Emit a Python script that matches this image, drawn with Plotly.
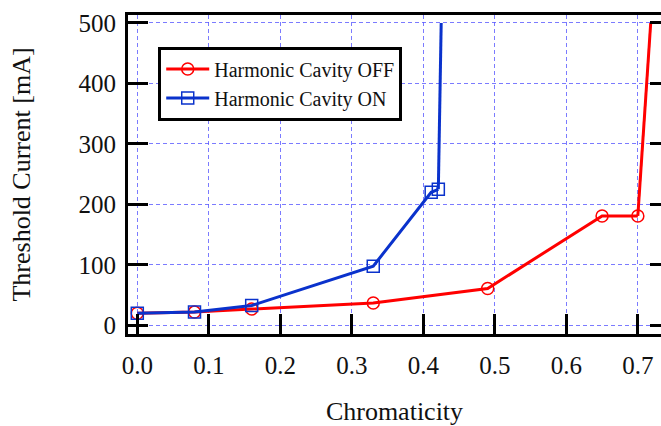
import plotly.graph_objects as go

# Threshold current vs chromaticity, with and without the harmonic cavity.
# The last point of each series marks where the current leaves the 500 mA scale.
chrom_off = [0.0, 0.08, 0.16, 0.33, 0.49, 0.65, 0.70, 0.718]
current_off = [20, 22, 27, 37, 61, 181, 181, 500]

chrom_on = [0.0, 0.08, 0.16, 0.33, 0.411, 0.421, 0.425]
current_on = [20, 22, 33, 98, 220, 225, 500]

x_ticks = [0.0, 0.1, 0.2, 0.3, 0.4, 0.5, 0.6, 0.7]
x_tick_text = ["0.0", "0.1", "0.2", "0.3", "0.4", "0.5", "0.6", "0.7"]
y_ticks = [0, 100, 200, 300, 400, 500]

RED = "#ff0000"
BLUE = "#0a32cc"
GRID = "rgba(90,90,255,0.8)"
FONT = "Liberation Serif"

fig = go.Figure()

series = [
    ("Harmonic Cavity OFF", chrom_off, current_off, RED, "circle-open"),
    ("Harmonic Cavity ON", chrom_on, current_on, BLUE, "square-open"),
]
for name, xs, ys, color, symbol in series:
    fig.add_trace(go.Scatter(
        x=xs[:-1], y=ys[:-1], mode="lines+markers", name=name,
        line=dict(color=color, width=3),
        marker=dict(symbol=symbol, size=12, color=color, line=dict(width=1.5, color=color)),
    ))
    # steep rise beyond the last measured point
    fig.add_trace(go.Scatter(
        x=xs[-2:], y=ys[-2:], mode="lines", showlegend=False, hoverinfo="skip",
        line=dict(color=color, width=3),
    ))

# right-hand mirrored ticks
fig.add_trace(go.Scatter(x=[None], y=[None], yaxis="y2", showlegend=False))

fig.update_layout(
    width=661, height=426,
    margin=dict(l=128, r=0, t=15, b=92),
    paper_bgcolor="white", plot_bgcolor="white",
    font=dict(family=FONT, size=24, color="#111111"),
    xaxis=dict(
        range=[-0.013, 0.7324],
        tickvals=x_ticks, ticktext=x_tick_text,
        ticks="inside", ticklen=20, tickwidth=3, tickcolor="black",
        showline=True, linewidth=3, linecolor="black", mirror=True,
        showgrid=True, gridcolor=GRID, gridwidth=1, griddash="4px,3px",
        zeroline=False, ticklabelstandoff=7, automargin=False,
        title=dict(text="Chromaticity", font=dict(size=26, family=FONT), standoff=33),
        tickfont=dict(size=25, family=FONT),
    ),
    yaxis=dict(
        range=[-14.2, 513.2],
        tickvals=y_ticks,
        ticks="inside", ticklen=20, tickwidth=3, tickcolor="black",
        showline=True, linewidth=3, linecolor="black",
        showgrid=True, gridcolor=GRID, gridwidth=1, griddash="4px,3px",
        zeroline=False, ticklabelstandoff=4, automargin=False,
        title=dict(text="Threshold Current [mA]", font=dict(size=26, family=FONT), standoff=41),
        tickfont=dict(size=25, family=FONT),
    ),
    yaxis2=dict(
        overlaying="y", side="right", matches="y",
        tickvals=y_ticks, showticklabels=False,
        ticks="inside", ticklen=11, tickwidth=3, tickcolor="black",
        showline=False, showgrid=False, zeroline=False, automargin=False,
    ),
    legend=dict(
        x=0.0567, y=0.901, xanchor="left", yanchor="top",
        bgcolor="white", bordercolor="black", borderwidth=3,
        font=dict(size=20, family=FONT, color="#111111"),
        itemwidth=43, tracegroupgap=0,
    ),
    showlegend=True,
)

fig.write_html("out.html")
